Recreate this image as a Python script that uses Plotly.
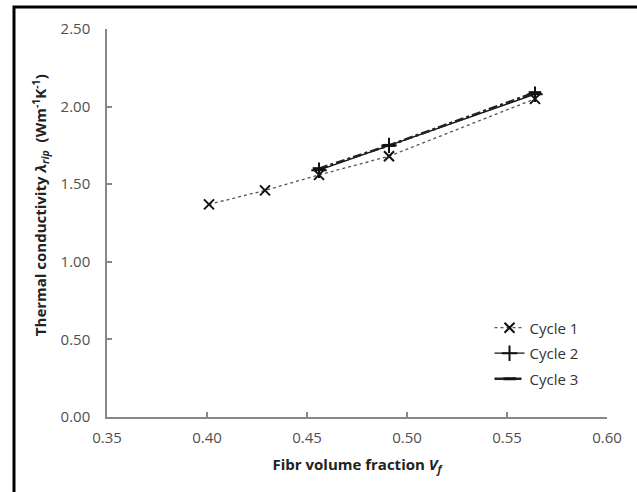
import plotly.graph_objects as go

vf1 = [0.401, 0.429, 0.456, 0.491, 0.564]
k1 = [1.37, 1.46, 1.56, 1.68, 2.05]
vf2 = [0.456, 0.491, 0.564]
k2 = [1.59, 1.75, 2.08]
vf3 = [0.456, 0.491, 0.564]
k3 = [1.60, 1.75, 2.09]
xticks = [0.35, 0.40, 0.45, 0.50, 0.55, 0.60]
yticks = [0.0, 0.5, 1.0, 1.5, 2.0, 2.5]

fig = go.Figure()
fig.add_trace(go.Scatter(x=vf1, y=k1, name="Cycle 1", mode="lines+markers", legendgroup="a",
                         line=dict(color="#555555", width=1.3, dash="dot"),
                         marker=dict(symbol="x-thin-open", size=10, color="#111111",
                                     line=dict(color="#111111", width=2))))
fig.add_trace(go.Scatter(x=vf2, y=k2, name="Cycle 2", mode="lines+markers", legendgroup="b",
                         line=dict(color="#111111", width=1.3),
                         marker=dict(symbol="cross-thin-open", size=11, color="#111111",
                                     line=dict(color="#111111", width=2))))
fig.add_trace(go.Scatter(x=vf3, y=k3, name="Cycle 3", mode="lines+markers", legendgroup="c",
                         line=dict(color="#222222", width=2.6, dash="dashdot"),
                         marker=dict(symbol="line-ew-open", size=9, color="#111111",
                                     line=dict(color="#111111", width=3))))

font = "Open Sans, Liberation Sans, sans-serif"
fig.update_layout(
    width=637, height=492,
    margin=dict(l=107, r=30, t=29, b=75),
    paper_bgcolor="white", plot_bgcolor="white",
    font=dict(family=font, size=15, color="#505050"),
    showlegend=True,
    legend=dict(x=0.765, y=0.272, xanchor="left", yanchor="top", traceorder="grouped",
                font=dict(size=15, color="#333333"), bgcolor="rgba(0,0,0,0)",
                itemwidth=30, tracegroupgap=3),
    xaxis=dict(range=[0.35, 0.60], tickvals=xticks, ticktext=[f"{v:.2f}" for v in xticks],
               showgrid=False, zeroline=False, showline=True, linecolor="#888888", linewidth=1.5,
               ticks="inside", ticklen=5, tickcolor="#888888", tickwidth=1.5,
               ticklabelstandoff=6,
               title=dict(text="<b>Fibr volume fraction <i>V<sub>f</sub></i></b>",
                          font=dict(size=15, color="#222222"), standoff=14)),
    yaxis=dict(range=[0, 2.5], tickvals=yticks, ticktext=[f"{v:.2f}" for v in yticks],
               showgrid=False, zeroline=False, showline=True, linecolor="#888888", linewidth=1.5,
               ticks="inside", ticklen=5, tickcolor="#888888", tickwidth=1.5,
               ticklabelstandoff=12),
)
fig.add_annotation(text="<b>Thermal conductivity <i>λ<sub>rip</sub></i>  (Wm<sup>-1</sup>K<sup>-1</sup>)</b>",
                   xref="paper", yref="paper", x=-0.134, y=0.546, xanchor="center", yanchor="middle",
                   textangle=-90, showarrow=False, font=dict(size=15, color="#222222"))
fig.add_shape(type="rect", xref="paper", yref="paper", x0=-0.186, x1=1.2, y0=-0.3, y1=1.057,
              line=dict(color="black", width=3), fillcolor="rgba(0,0,0,0)", layer="above")
fig.write_html("out.html")
